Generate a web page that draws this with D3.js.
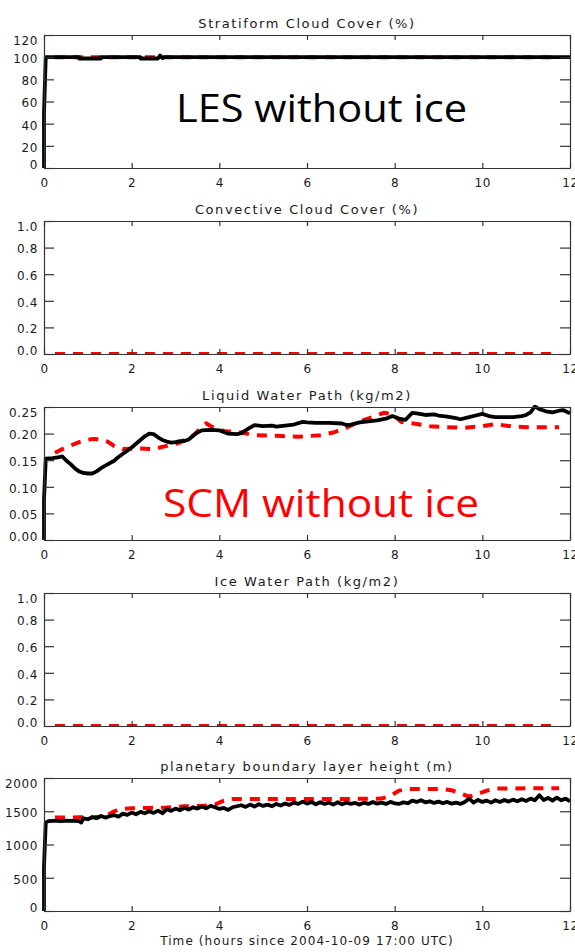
<!DOCTYPE html>
<html>
<head>
<meta charset="utf-8">
<script src="https://cdn.jsdelivr.net/npm/d3@7"></script>
<style>
  html, body { margin: 0; padding: 0; background: #fff; }
  svg { display: block; }
  .lab { font-family: "DejaVu Sans", sans-serif; font-size: 12px; fill: #1a1a1a; letter-spacing: 0.6px; }
  .ttl { font-family: "DejaVu Sans", sans-serif; font-size: 13px; fill: #1a1a1a; letter-spacing: 1.6px; }
  .xttl { font-family: "DejaVu Sans", sans-serif; font-size: 12px; fill: #1a1a1a; letter-spacing: 1.1px; }
</style>
</head>
<body>
<svg id="chart" width="575" height="952"></svg>
<script>
// ---- shared axis values ----
const timeTicks = [0, 2, 4, 6, 8, 10, 12];
const timeLabel = "Time (hours since 2004-10-09 17:00 UTC)";

// ---- panel titles and y ticks ----
const panelTitles = [
  "Stratiform Cloud Cover (%)",
  "Convective Cloud Cover (%)",
  "Liquid Water Path (kg/m2)",
  "Ice Water Path (kg/m2)",
  "planetary boundary layer height (m)"
];
const stratTicks = [0, 20, 40, 60, 80, 100, 120];
const convTicks = [0, 0.2, 0.4, 0.6, 0.8, 1.0];
const lwpTicks = [0, 0.05, 0.10, 0.15, 0.20, 0.25];
const iwpTicks = [0, 0.2, 0.4, 0.6, 0.8, 1.0];
const pblTicks = [0, 500, 1000, 1500, 2000];

// ---- LES series (black, solid): [hours, value] ----
const stratLes = [[0,0],[0,50],[0.04,100],[0.8,100],[0.8,98.8],[1.3,98.8],[1.3,100],[2.2,100],[2.2,98.8],[2.6,98.8],[2.65,101.5],[2.7,99.2],[2.75,100],[12,100]];
const lwpLes = [[0,0],[0,0.075],[0.04,0.153],[0.2,0.154],[0.35,0.156],[0.42,0.157],[0.5,0.15],[0.6,0.143],[0.7,0.135],[0.8,0.129],[0.9,0.126],[1.0,0.125],[1.1,0.125],[1.2,0.129],[1.3,0.135],[1.45,0.142],[1.6,0.149],[1.7,0.156],[1.8,0.162],[1.9,0.168],[2.0,0.174],[2.1,0.181],[2.2,0.188],[2.3,0.195],[2.4,0.200],[2.5,0.199],[2.6,0.193],[2.7,0.188],[2.8,0.185],[2.9,0.183],[3.0,0.184],[3.1,0.186],[3.2,0.186],[3.3,0.189],[3.4,0.196],[3.5,0.202],[3.6,0.206],[3.8,0.207],[4.0,0.206],[4.1,0.203],[4.2,0.200],[4.4,0.199],[4.5,0.201],[4.6,0.206],[4.7,0.211],[4.8,0.216],[5.0,0.214],[5.2,0.215],[5.3,0.213],[5.5,0.215],[5.7,0.217],[5.9,0.222],[6.0,0.221],[6.2,0.220],[6.5,0.220],[6.8,0.219],[6.9,0.216],[7.0,0.217],[7.2,0.221],[7.4,0.223],[7.6,0.225],[7.8,0.228],[7.95,0.233],[8.1,0.228],[8.25,0.226],[8.4,0.239],[8.5,0.238],[8.7,0.235],[8.9,0.236],[9.0,0.234],[9.2,0.232],[9.4,0.229],[9.5,0.227],[9.7,0.231],[9.85,0.234],[10.0,0.237],[10.15,0.233],[10.3,0.231],[10.5,0.231],[10.7,0.231],[10.9,0.233],[11.0,0.235],[11.1,0.240],[11.2,0.251],[11.3,0.246],[11.45,0.242],[11.6,0.240],[11.75,0.243],[11.85,0.244],[12.0,0.238]];
const pblLes = [[0,0],[0,670],[0.04,1330],[0.1,1352],[0.2,1355],[0.3,1355],[0.4,1352],[0.5,1358],[0.6,1355],[0.7,1355],[0.8,1352],[0.85,1330],[0.9,1395],[1.0,1380],[1.1,1410],[1.2,1395],[1.3,1430],[1.4,1405],[1.5,1425],[1.6,1440],[1.7,1420],[1.8,1465],[1.9,1445],[2.0,1480],[2.1,1455],[2.2,1490],[2.3,1470],[2.4,1500],[2.5,1475],[2.6,1510],[2.7,1470],[2.8,1530],[2.9,1505],[3.0,1540],[3.1,1515],[3.2,1550],[3.3,1525],[3.4,1560],[3.5,1540],[3.6,1570],[3.7,1545],[3.8,1580],[3.9,1560],[4.0,1535],[4.1,1550],[4.2,1520],[4.3,1560],[4.4,1575],[4.5,1590],[4.6,1565],[4.7,1600],[4.8,1570],[4.9,1605],[5.0,1580],[5.1,1600],[5.2,1575],[5.3,1610],[5.4,1585],[5.5,1615],[5.6,1595],[5.7,1630],[5.8,1610],[5.9,1645],[6.0,1615],[6.1,1640],[6.2,1605],[6.3,1635],[6.4,1610],[6.5,1630],[6.6,1600],[6.7,1635],[6.8,1605],[6.9,1630],[7.0,1610],[7.1,1625],[7.2,1600],[7.3,1630],[7.4,1610],[7.5,1640],[7.6,1615],[7.7,1630],[7.8,1610],[7.9,1640],[8.0,1620],[8.1,1610],[8.2,1635],[8.3,1620],[8.4,1660],[8.5,1640],[8.6,1665],[8.7,1635],[8.8,1650],[8.9,1625],[9.0,1645],[9.1,1620],[9.2,1640],[9.3,1615],[9.4,1630],[9.5,1610],[9.6,1640],[9.7,1690],[9.8,1630],[9.9,1670],[10.0,1640],[10.1,1660],[10.2,1630],[10.3,1665],[10.4,1640],[10.5,1670],[10.6,1645],[10.7,1675],[10.8,1650],[10.9,1680],[11.0,1655],[11.1,1690],[11.2,1665],[11.3,1740],[11.4,1670],[11.5,1700],[11.6,1660],[11.7,1705],[11.8,1665],[11.9,1690],[12.0,1650]];

// ---- SCM series (red, dashed): [hours, value] ----
const stratScm = [[0.25,100],[11.75,100]];
const convScm = [[0.25,0],[11.75,0]];
const lwpScm = [[0.25,0.164],[0.5,0.174],[0.8,0.184],[1.1,0.190],[1.3,0.189],[1.45,0.185],[1.6,0.177],[1.8,0.171],[2.1,0.172],[2.5,0.171],[2.8,0.177],[3.1,0.183],[3.4,0.196],[3.6,0.212],[3.7,0.219],[3.85,0.212],[4.1,0.205],[4.5,0.202],[4.8,0.197],[5.3,0.196],[5.8,0.194],[6.3,0.197],[6.6,0.202],[6.9,0.211],[7.2,0.223],[7.5,0.231],[7.75,0.239],[7.95,0.237],[8.15,0.222],[8.5,0.218],[8.8,0.214],[9.2,0.212],[9.6,0.211],[10.0,0.214],[10.3,0.218],[10.7,0.213],[11.1,0.212],[11.75,0.212]];
const iwpScm = [[0.25,0],[11.75,0]];
const pblScm = [[0.25,1405],[0.5,1405],[0.8,1408],[1.1,1410],[1.4,1420],[1.55,1480],[1.7,1530],[2.0,1545],[2.4,1550],[2.8,1555],[3.2,1575],[3.6,1580],[3.9,1600],[4.1,1660],[4.3,1685],[5.0,1685],[6.0,1685],[7.0,1685],[7.7,1690],[7.9,1730],[8.1,1810],[8.3,1835],[8.7,1835],[9.1,1835],[9.3,1815],[9.5,1770],[9.7,1720],[9.9,1760],[10.1,1810],[10.3,1840],[11.0,1845],[11.75,1845]];

// ---- layout ----
const left = 44, right = 570, plotH = 133;
const tops = [35, 221, 407, 593, 778];

const panels = [
  { title: panelTitles[0], ticks: stratTicks, domain: [0, 120], fmt: d3.format("d"), les: stratLes, scm: stratScm },
  { title: panelTitles[1], ticks: convTicks, domain: [0, 1], fmt: d3.format(".1f"), les: null, scm: convScm },
  { title: panelTitles[2], ticks: lwpTicks, domain: [0, 0.25], fmt: d3.format(".2f"), les: lwpLes, scm: lwpScm },
  { title: panelTitles[3], ticks: iwpTicks, domain: [0, 1], fmt: d3.format(".1f"), les: null, scm: iwpScm },
  { title: panelTitles[4], ticks: pblTicks, domain: [0, 2000], fmt: d3.format("d"), les: pblLes, scm: pblScm }
];

const svg = d3.select("#chart");
const x = d3.scaleLinear().domain([0, 12]).range([left, right]);

panels.forEach((p, i) => {
  const top = tops[i], bottom = top + plotH;
  const y = d3.scaleLinear().domain(p.domain).range([bottom, top]);
  const g = svg.append("g");

  // plot-window clip
  const clipId = "clip" + i;
  svg.append("clipPath").attr("id", clipId)
    .append("rect").attr("x", left - 3).attr("y", top - 2)
    .attr("width", right - left + 3).attr("height", plotH + 2);

  const line = d3.line().x(d => x(d[0])).y(d => y(d[1]));
  const marks = g.append("g").attr("clip-path", `url(#${clipId})`);

  marks.append("path").datum(p.scm)
    .attr("d", line).attr("fill", "none")
    .attr("stroke", "#ff0000").attr("stroke-width", 4)
    .attr("stroke-dasharray", "10,8");

  if (p.les) {
    marks.append("path").datum(p.les)
      .attr("d", line).attr("fill", "none")
      .attr("stroke", "#000").attr("stroke-width", 3.8)
      .attr("stroke-linejoin", "round");
  }

  // axes: ticks point inward on all four sides
  const styleAxis = sel => {
    sel.select(".domain").attr("stroke", "#333").attr("stroke-width", 1.2);
    sel.selectAll(".tick line").attr("stroke", "#333").attr("stroke-width", 1.2);
    sel.selectAll(".tick text").attr("class", "lab").attr("fill", null);
    sel.attr("font-family", null).attr("font-size", null);
  };

  g.append("g").attr("transform", `translate(0,${bottom})`)
    .call(d3.axisBottom(x).tickValues(timeTicks).tickSizeInner(-5).tickSizeOuter(0).tickPadding(10.5).tickFormat(d3.format("d")))
    .call(styleAxis);
  g.append("g").attr("transform", `translate(0,${top})`)
    .call(d3.axisTop(x).tickValues(timeTicks).tickSizeInner(-5).tickSizeOuter(0).tickFormat(""))
    .call(styleAxis);
  const ya = g.append("g").attr("transform", `translate(${left},0)`)
    .call(d3.axisLeft(y).tickValues(p.ticks).tickSizeInner(-10).tickSizeOuter(0).tickPadding(6).tickFormat(p.fmt))
    .call(styleAxis);
  ya.selectAll(".tick text").attr("transform", d =>
    d === p.domain[1] ? "translate(0,6)" : d === p.domain[0] ? "translate(0,-3)" : "translate(0,1.5)");
  g.append("g").attr("transform", `translate(${right},0)`)
    .call(d3.axisRight(y).tickValues(p.ticks).tickSizeInner(-10).tickSizeOuter(0).tickFormat(""))
    .call(styleAxis);

  g.append("text").attr("class", "ttl")
    .attr("x", (left + right) / 2).attr("y", top - 7)
    .attr("text-anchor", "middle").text(p.title);
});

// x-axis title under the last panel
svg.append("text").attr("class", "xttl")
  .attr("x", (left + right) / 2).attr("y", tops[4] + plotH + 34)
  .attr("text-anchor", "middle").text(timeLabel);

// run labels
svg.append("text")
  .attr("x", 176).attr("y", 122)
  .attr("font-family", "'Open Sans', sans-serif").attr("font-size", 38)
  .attr("textLength", 291).attr("lengthAdjust", "spacingAndGlyphs")
  .attr("fill", "#000").text("LES without ice");
svg.append("text")
  .attr("x", 163).attr("y", 517)
  .attr("font-family", "'Open Sans', sans-serif").attr("font-size", 38)
  .attr("textLength", 316).attr("lengthAdjust", "spacingAndGlyphs")
  .attr("fill", "#ff0000").text("SCM without ice");
</script>
</body>
</html>
